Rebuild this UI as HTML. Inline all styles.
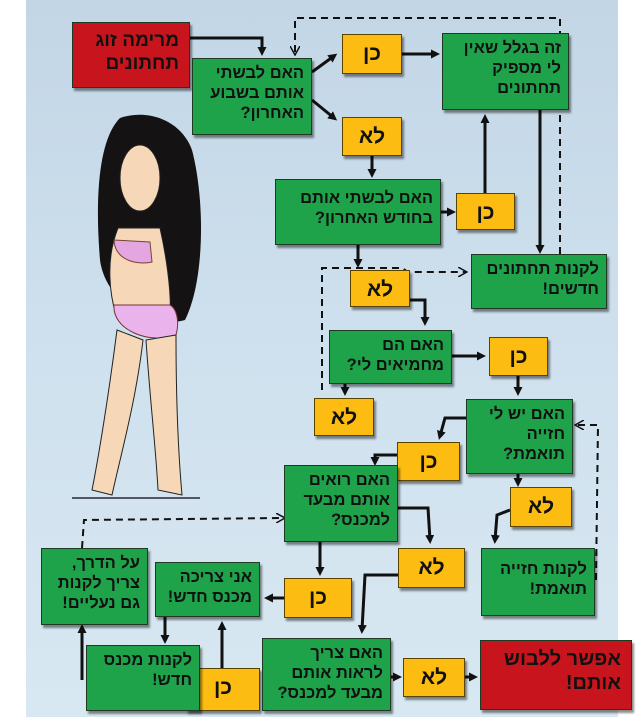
<!DOCTYPE html>
<html><head><meta charset="utf-8"><style>
html,body{margin:0;padding:0;width:644px;height:719px;overflow:hidden;background:#fff}
#bg{position:absolute;left:26px;top:0;width:592px;height:717px;background:linear-gradient(180deg,#c3d6e6 0%,#cfe1ee 50%,#d8e8f2 100%)}
.b{position:absolute;box-sizing:border-box;border:1px solid #1f3a22;direction:rtl;text-align:right;font-family:"Liberation Sans","DejaVu Sans",sans-serif;font-weight:bold;color:#111;box-shadow:2px 3px 2px rgba(0,0,0,.45);padding:4px 7px;line-height:1.22}
.g{background:#1ea34b;font-size:16.5px}
.y{background:#fcbc12;font-size:21px;text-align:center;padding:6px 0;border-color:#5a4300}
.r{background:#c8141c;font-size:19px;color:#111;padding:6px 10px}
svg{position:absolute;left:0;top:0}
</style></head><body>
<div id="bg"></div>
<svg width="644" height="719">
<defs><marker id="a" markerWidth="9" markerHeight="9" refX="5" refY="4.5" orient="auto" markerUnits="userSpaceOnUse"><path d="M0,0 L9,4.5 L0,9 z" fill="#111"/></marker>
<marker id="o" markerWidth="10" markerHeight="10" refX="8" refY="5" orient="auto" markerUnits="userSpaceOnUse"><path d="M0,0 L9,5 L0,10" fill="none" stroke="#111" stroke-width="1.5"/></marker></defs>
<!-- woman -->
<g>
<path d="M120,118 C98,140 95,200 100,260 C105,300 150,330 185,320 C205,280 205,200 192,150 C182,122 150,108 120,118z" fill="#141212"/>
<ellipse cx="140" cy="178" rx="20" ry="33" fill="#f6d7b8" stroke="#222"/>
<path d="M118,228 C105,260 110,295 116,315 L170,318 C172,290 165,250 160,228z" fill="#f6d7b8" stroke="#222"/>
<path d="M114,240 C115,262 140,265 152,262 L150,242z" fill="#e3a6e0" stroke="#743"/>
<path d="M114,305 C112,330 150,345 176,335 C180,320 176,308 170,305z" fill="#eab3ec" stroke="#733"/>
<path d="M117,330 C108,400 98,460 92,490 L112,495 C122,450 136,400 143,340z" fill="#f6d7b8" stroke="#222"/>
<path d="M146,340 C150,400 156,450 158,490 L182,495 C178,450 176,390 176,335z" fill="#f6d7b8" stroke="#222"/>
<path d="M72,498 L200,498" stroke="#556" stroke-width="2"/>
</g>
<g stroke="#111" stroke-width="3" fill="none" marker-end="url(#a)">
<path d="M190,38 L262,38 L262,52"/>
<path d="M312,72 L334,56"/>
<path d="M312,100 L334,118"/>
<path d="M402,54 L436,54"/>
<path d="M372,156 L372,174"/>
<path d="M441,212 L452,212"/>
<path d="M485,193 L485,118"/>
<path d="M540,110 L540,250"/>
<path d="M358,245 L358,264"/>
<path d="M410,300 L425,300 L425,322"/>
<path d="M452,356 L482,356"/>
<path d="M518,376 L518,392"/>
<path d="M345,384 L345,392"/>
<path d="M466,418 L445,418 L440,436"/>
<path d="M397,455 L375,455 L375,462"/>
<path d="M518,474 L518,483"/>
<path d="M510,510 L497,515 L495,540"/>
<path d="M398,508 L428,508 L430,540"/>
<path d="M320,542 L320,572"/>
<path d="M398,575 L365,575 L362,630"/>
<path d="M284,598 L268,598"/>
<path d="M165,617 L165,640"/>
<path d="M222,668 L222,625"/>
<path d="M82,680 L82,628"/>
<path d="M391,677 L398,677"/>
<path d="M465,677 L474,677"/>
</g>
<g stroke="#111" stroke-width="2" fill="none" stroke-dasharray="7,5" marker-end="url(#o)">
<path d="M560,254 L560,18 L295,18 L295,54"/>
<path d="M322,390 L322,268 L402,268 L408,272 L466,272"/>
<path d="M596,580 L598,425 L576,425"/>
<path d="M82,548 L84,520 L284,518"/>
</g>
</svg>
<div class="b r" style="left:72px;top:22px;width:118px;height:66px">מרימה זוג<br>תחתונים</div>
<div class="b g" style="left:192px;top:58px;width:120px;height:77px">האם לבשתי<br>אותם בשבוע<br>האחרון?</div>
<div class="b y" style="left:342px;top:34px;width:60px;height:40px">כן</div>
<div class="b g" style="left:442px;top:33px;width:127px;height:77px">זה בגלל שאין<br>לי מספיק<br>תחתונים</div>
<div class="b y" style="left:342px;top:117px;width:60px;height:39px">לא</div>
<div class="b g" style="left:275px;top:179px;width:166px;height:66px;padding-top:8px">האם לבשתי אותם<br>בחודש האחרון?</div>
<div class="b y" style="left:456px;top:193px;width:59px;height:37px">כן</div>
<div class="b g" style="left:471px;top:254px;width:136px;height:55px">לקנות תחתונים<br>חדשים!</div>
<div class="b y" style="left:350px;top:270px;width:60px;height:37px">לא</div>
<div class="b g" style="left:329px;top:330px;width:123px;height:54px">האם הם<br>מחמיאים לי?</div>
<div class="b y" style="left:489px;top:337px;width:59px;height:39px">כן</div>
<div class="b y" style="left:314px;top:398px;width:60px;height:38px">לא</div>
<div class="b g" style="left:466px;top:399px;width:107px;height:75px">האם יש לי<br>חזייה<br>תואמת?</div>
<div class="b y" style="left:397px;top:442px;width:63px;height:39px">כן</div>
<div class="b g" style="left:284px;top:465px;width:114px;height:77px">האם רואים<br>אותם מבעד<br>למכנס?</div>
<div class="b y" style="left:510px;top:487px;width:62px;height:40px">לא</div>
<div class="b g" style="left:481px;top:548px;width:114px;height:68px;padding-top:10px">לקנות חזייה<br>תואמת!</div>
<div class="b y" style="left:398px;top:548px;width:67px;height:40px">לא</div>
<div class="b g" style="left:41px;top:548px;width:107px;height:77px">על הדרך,<br>צריך לקנות<br>גם נעליים!</div>
<div class="b g" style="left:155px;top:562px;width:105px;height:55px">אני צריכה<br>מכנס חדש!</div>
<div class="b y" style="left:284px;top:578px;width:68px;height:40px">כן</div>
<div class="b y" style="left:186px;top:668px;width:74px;height:43px">כן</div>
<div class="b g" style="left:86px;top:645px;width:114px;height:66px">לקנות מכנס<br>חדש!</div>
<div class="b g" style="left:262px;top:638px;width:129px;height:73px">האם צריך<br>לראות אותם<br>מבעד למכנס?</div>
<div class="b y" style="left:403px;top:658px;width:62px;height:39px">לא</div>
<div class="b r" style="left:480px;top:640px;width:152px;height:70px;font-size:20px">אפשר ללבוש<br>אותם!</div>
</body></html>
